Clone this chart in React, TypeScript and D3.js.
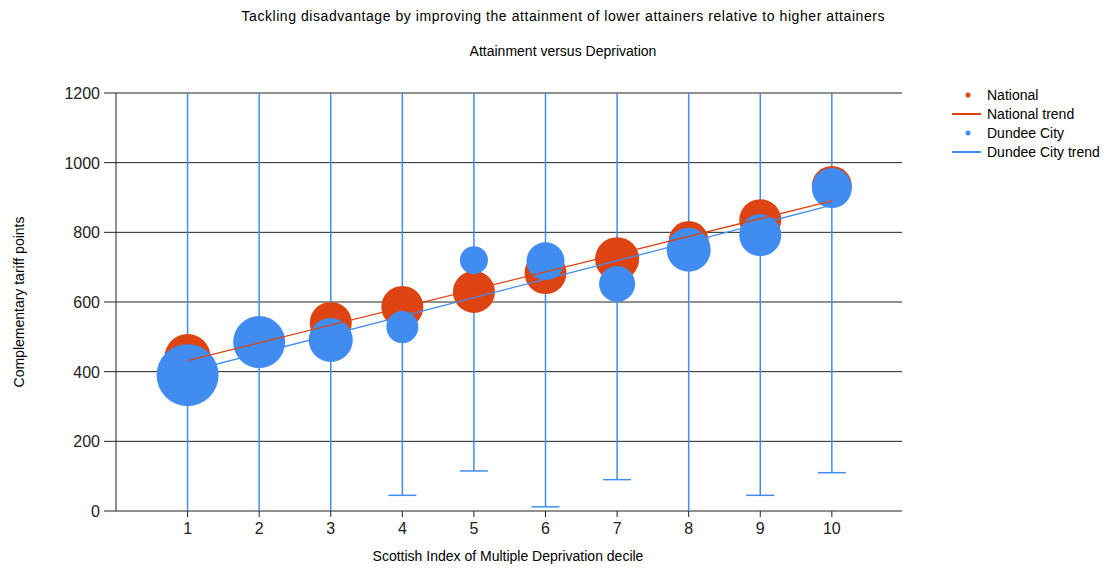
import React from "react";
import * as d3 from "d3";

const deciles = ["1", "2", "3", "4", "5", "6", "7", "8", "9", "10"];
const xValues = [1, 2, 3, 4, 5, 6, 7, 8, 9, 10];
const national = [442, 480, 540, 586, 629, 683, 723, 775, 835, 933];
const nationalSize = [23, 24, 21, 21, 21, 21, 22, 20, 21, 20];
const dundee = [390, 485, 491, 528, 720, 717, 652, 750, 792, 927];
const dundeeSize = [31, 26, 22, 16, 14, 19, 18, 22, 21, 20];
const errLow = [-50, -50, -50, 45, 115, 12, 90, -50, 45, 110];
const nationalTrend = [432, 890];
const dundeeTrend = [400, 878];
const yTicks = [0, 200, 400, 600, 800, 1000, 1200];

const ORANGE = "#DD4411";
const BLUE = "#418CF0";
const FONT = "Liberation Sans, Arial, sans-serif";

export default function App() {
  const width = 1116, height = 568;
  const x = d3.scaleLinear().domain([0, 10.98]).range([116, 902]);
  const y = d3.scaleLinear().domain([0, 1200]).range([511, 93]);
  const pw = x.range()[1] - x.range()[0];

  return (
    <svg width={width} height={height} style={{ position: "absolute", left: 0, top: 0 }} fontFamily={FONT}>
      <rect width={width} height={height} fill="#fff" />
      <text x={563} y={21} textAnchor="middle" fontSize={14} textLength={643}>Tackling disadvantage by improving the attainment of lower attainers relative to higher attainers</text>
      <text x={563} y={56} textAnchor="middle" fontSize={14}>Attainment versus Deprivation</text>
      {yTicks.map((t) => (
        <g key={t}>
          <line x1={104} x2={902} y1={y(t)} y2={y(t)} stroke="#222" strokeWidth={1} />
          <text x={100} y={y(t) + 6} textAnchor="end" fontSize={16} fill="#222">{t}</text>
        </g>
      ))}
      <line x1={116} x2={116} y1={93} y2={511} stroke="#222" />
      {deciles.map((d, i) => (
        <g key={d}>
          <line x1={x(xValues[i])} x2={x(xValues[i])} y1={511} y2={517} stroke="#222" />
          <text x={x(xValues[i])} y={534} textAnchor="middle" fontSize={16} fill="#222">{d}</text>
        </g>
      ))}
      <g clipPath="url(#plot)">
        <clipPath id="plot"><rect x={116} y={93} width={pw} height={418} /></clipPath>
        {deciles.map((d, i) => (
          <g key={d}>
            <line x1={x(xValues[i])} x2={x(xValues[i])} y1={y(1200)} y2={y(errLow[i])} stroke={BLUE} strokeWidth={1.5} />
            {errLow[i] > 0 && (
              <line x1={x(xValues[i]) - 14} x2={x(xValues[i]) + 14} y1={y(errLow[i])} y2={y(errLow[i])} stroke={BLUE} strokeWidth={1.5} />
            )}
          </g>
        ))}
        {deciles.map((d, i) => (
          <circle key={"n" + d} cx={x(xValues[i])} cy={y(national[i])} r={nationalSize[i]} fill={ORANGE} />
        ))}
        {deciles.map((d, i) => (
          <circle key={"d" + d} cx={x(xValues[i])} cy={y(dundee[i])} r={dundeeSize[i]} fill={BLUE} />
        ))}
        <line x1={x(xValues[0])} x2={x(xValues[9])} y1={y(nationalTrend[0])} y2={y(nationalTrend[1])} stroke={ORANGE} strokeWidth={1.3} />
        <line x1={x(xValues[0])} x2={x(xValues[9])} y1={y(dundeeTrend[0])} y2={y(dundeeTrend[1])} stroke={BLUE} strokeWidth={1.3} />
      </g>
      <text transform="translate(24,302) rotate(-90)" textAnchor="middle" fontSize={14}>Complementary tariff points</text>
      <text x={508} y={561} textAnchor="middle" fontSize={14}>Scottish Index of Multiple Deprivation decile</text>
      <g fontSize={14}>
        <circle cx={968} cy={95} r={2.5} fill={ORANGE} />
        <text x={987} y={100}>National</text>
        <line x1={952} x2={981} y1={114} y2={114} stroke={ORANGE} strokeWidth={2} />
        <text x={987} y={119}>National trend</text>
        <circle cx={968} cy={133} r={2.5} fill={BLUE} />
        <text x={987} y={138}>Dundee City</text>
        <line x1={952} x2={981} y1={152} y2={152} stroke={BLUE} strokeWidth={2} />
        <text x={987} y={157}>Dundee City trend</text>
      </g>
    </svg>
  );
}
